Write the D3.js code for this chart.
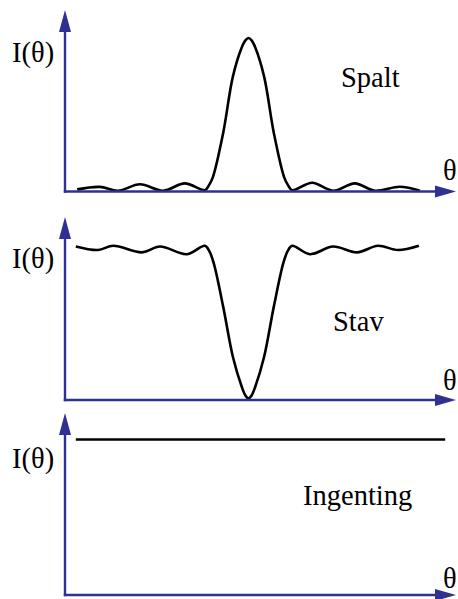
<!DOCTYPE html>
<html>
<head>
<meta charset="utf-8">
<script src="https://cdn.jsdelivr.net/npm/d3@7"></script>
<style>
  body { margin: 0; background: #fff; }
  text { font-family: "Liberation Serif", "Times New Roman", Times, serif; }
</style>
</head>
<body>
<div id="chart"></div>
<script>
// Values: theta in units of the first minimum, I relative to peak
var spaltTheta = [-3.85, -3.34, -2.93, -2.44, -1.92, -1.43, -0.98, -0.90, -0.80, -0.57, -0.35, -0.15, -0.07, 0,
                  0.07, 0.15, 0.35, 0.57, 0.80, 0.90, 0.98, 1.43, 1.90, 2.39, 2.84, 3.40, 3.85];
var spaltI =     [0.014, 0.03, 0.005, 0.047, 0.005, 0.053, 0.008, 0.035, 0.094, 0.38, 0.75, 0.94, 0.985, 1.0,
                  0.985, 0.94, 0.75, 0.38, 0.094, 0.035, 0.008, 0.057, 0.005, 0.053, 0.005, 0.031, 0.005];

var stavTheta = [-3.88, -3.38, -3.04, -2.39, -1.99, -1.38, -0.98, -0.88, -0.78, -0.57, -0.35, -0.15, -0.07, 0,
                 0.07, 0.15, 0.35, 0.57, 0.78, 0.88, 0.98, 1.38, 1.90, 2.44, 2.91, 3.36, 3.83];
var stavI =     [1.0, 0.977, 1.005, 0.962, 1.0, 0.95, 1.005, 0.97, 0.89, 0.61, 0.28, 0.085, 0.03, 0.01,
                 0.03, 0.085, 0.28, 0.61, 0.89, 0.97, 1.005, 0.95, 1.0, 0.962, 1.005, 0.977, 1.005];

var ingentingTheta = [-3.88, 4.42];
var ingentingI = [1.0, 1.0];

var panelNames = ["Spalt", "Stav", "Ingenting"];
var yLabel = "I(\u03b8)";
var xLabel = "\u03b8";

var width = 458, height = 599;
var axisColor = "#2e3192";

var svg = d3.select("#chart").append("svg")
    .attr("width", width)
    .attr("height", height);

// layout of each panel: x-axis baseline, pixel for I=1, top of y arrow, label placement
var panels = [
  {theta: spaltTheta, I: spaltI, base: 191.5, top: 38, arrowTop: 10, yLab: 62, nameX: 341, nameY: 87, thetaY: 180},
  {theta: stavTheta, I: stavI, base: 400, top: 246.5, arrowTop: 217, yLab: 268, nameX: 333, nameY: 331, thetaY: 390},
  {theta: ingentingTheta, I: ingentingI, base: 595, top: 439.5, arrowTop: 413, yLab: 468, nameX: 303, nameY: 505, thetaY: 588}
];

var x = d3.scaleLinear().domain([-4, 4]).range([70.5, 426.5]);
var axisX = 65, axisEnd = 456;

var line = d3.line().curve(d3.curveCatmullRom.alpha(0.5));

panels.forEach(function(p, i) {
  var y = d3.scaleLinear().domain([0, 1]).range([p.base, p.top]);
  var g = svg.append("g").attr("class", "panel");

  var pts = p.theta.map(function(t, k) { return [x(t), y(p.I[k])]; });
  g.append("path")
    .attr("d", line(pts))
    .attr("fill", "none")
    .attr("stroke", "#000")
    .attr("stroke-width", 2.6)
    .attr("stroke-linejoin", "round");

  // axes
  g.append("line")
    .attr("x1", axisX).attr("y1", p.base + 1.2)
    .attr("x2", axisX).attr("y2", p.arrowTop + 15)
    .attr("stroke", axisColor).attr("stroke-width", 2.4);
  g.append("line")
    .attr("x1", axisX - 1.2).attr("y1", p.base)
    .attr("x2", axisEnd - 15).attr("y2", p.base)
    .attr("stroke", axisColor).attr("stroke-width", 2.4);
  g.append("path")
    .attr("d", "M" + axisX + "," + p.arrowTop + "L" + (axisX + 6) + "," + (p.arrowTop + 22) +
               "L" + (axisX - 6) + "," + (p.arrowTop + 22) + "Z")
    .attr("fill", axisColor);
  g.append("path")
    .attr("d", "M" + axisEnd + "," + p.base + "L" + (axisEnd - 21) + "," + (p.base - 6) +
               "L" + (axisEnd - 21) + "," + (p.base + 6) + "Z")
    .attr("fill", axisColor);

  // labels
  g.append("text").attr("x", 12).attr("y", p.yLab)
    .attr("font-family", "Liberation Serif")
    .attr("font-size", 28.5).text(yLabel);
  g.append("text").attr("x", 443).attr("y", p.thetaY)
    .attr("font-family", "Liberation Serif")
    .attr("font-size", 28.5).text(xLabel);
  g.append("text").attr("x", p.nameX).attr("y", p.nameY)
    .attr("font-family", "Liberation Serif")
    .attr("font-size", 28.5).text(panelNames[i]);
});
</script>
</body>
</html>
